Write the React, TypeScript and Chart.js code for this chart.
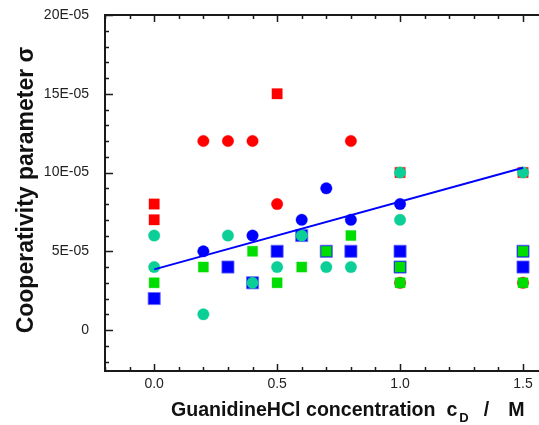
import React, { useEffect, useRef } from 'react';
import { Chart, registerables } from 'chart.js';

Chart.register(...registerables);

// ---- data (values in σ units) ----
const redSquareX = [0.0, 0.0, 0.5, 1.0, 1.5];
const redSquareY = [8e-5, 7e-5, 15e-5, 10e-5, 10e-5];

const redCircleX = [0.2, 0.3, 0.4, 0.5, 0.8, 1.0, 1.5];
const redCircleY = [12e-5, 12e-5, 12e-5, 8e-5, 12e-5, 3e-5, 3e-5];

const blueSquareX = [0.0, 0.3, 0.4, 0.5, 0.6, 0.7, 0.8, 1.0, 1.0, 1.5, 1.5];
const blueSquareY = [2e-5, 4e-5, 3e-5, 5e-5, 6e-5, 5e-5, 5e-5, 5e-5, 4e-5, 5e-5, 4e-5];

const blueCircleX = [0.2, 0.4, 0.6, 0.7, 0.8, 1.0];
const blueCircleY = [5e-5, 6e-5, 7e-5, 9e-5, 7e-5, 8e-5];

const greenSquareX = [0.0, 0.2, 0.4, 0.5, 0.6, 0.7, 0.8, 1.0, 1.0, 1.5, 1.5];
const greenSquareY = [3e-5, 4e-5, 5e-5, 3e-5, 4e-5, 5e-5, 6e-5, 4e-5, 3e-5, 5e-5, 3e-5];

const cyanCircleX = [0.0, 0.0, 0.2, 0.3, 0.4, 0.5, 0.6, 0.7, 0.8, 1.0, 1.0, 1.5];
const cyanCircleY = [6e-5, 4e-5, 1e-5, 6e-5, 3e-5, 4e-5, 6e-5, 4e-5, 4e-5, 7e-5, 10e-5, 10e-5];

const fitX = [0.0, 1.5];
const fitY = [3.85e-5, 10.3e-5];

const xTickValues = [0.0, 0.5, 1.0, 1.5];
const xTickLabels = ['0.0', '0.5', '1.0', '1.5'];
const yTickValues = [0, 5e-5, 10e-5, 15e-5, 20e-5];
const yTickLabels = ['0', '5E-05', '10E-05', '15E-05', '20E-05'];

const X_MIN = -0.2;
const X_MAX = 1.565;
const Y_MIN = -2.6e-5;
const Y_MAX = 20e-5;
const X_MINOR_STEP = 0.1;
const Y_MINOR_STEP = 1e-5;

const xLabelMain = 'GuanidineHCl concentration  c';
const xLabelSub = 'D';
const xLabelSlash = '/';
const xLabelUnit = 'M';
const yLabel = 'Cooperativity parameter σ';

const pts = (xs: number[], ys: number[]) => xs.map((x, i) => ({ x, y: ys[i] }));

const FONT = '"Liberation Sans", Arial, sans-serif';

const zeroPad = (s: any) => {
  s.paddingTop = 0;
  s.paddingBottom = 0;
  s.paddingLeft = 0;
  s.paddingRight = 0;
};

const framePlugin = {
  id: 'frame',
  beforeDatasetsDraw(chart: any) {
    const { ctx, chartArea, scales } = chart;
    const xs = scales.x;
    const ys = scales.y;
    const L = chartArea.left;
    const T = chartArea.top;
    const B = chartArea.bottom;
    const R = chart.width;
    ctx.save();
    ctx.strokeStyle = '#1a1a1a';
    ctx.lineWidth = 2;
    ctx.beginPath();
    ctx.moveTo(R, T);
    ctx.lineTo(L, T);
    ctx.lineTo(L, B);
    ctx.lineTo(R, B);
    ctx.stroke();
    ctx.lineWidth = 1.5;
    ctx.beginPath();
    for (let i = Math.ceil(X_MIN / X_MINOR_STEP); i * X_MINOR_STEP <= X_MAX + 1e-9; i++) {
      const v = i * X_MINOR_STEP;
      const px = Math.round(xs.getPixelForValue(v)) + 0.5;
      const major = i % 5 === 0;
      const len = major ? 7 : 4;
      ctx.moveTo(px, B);
      ctx.lineTo(px, B - len);
      ctx.moveTo(px, T);
      ctx.lineTo(px, T + len);
    }
    for (let i = Math.ceil(Y_MIN / Y_MINOR_STEP); i * Y_MINOR_STEP <= Y_MAX + 1e-12; i++) {
      const v = i * Y_MINOR_STEP;
      const py = Math.round(ys.getPixelForValue(v)) + 0.5;
      const major = i % 5 === 0;
      const len = major ? 8 : 4;
      ctx.moveTo(L, py);
      ctx.lineTo(L + len, py);
    }
    ctx.stroke();
    ctx.restore();
  },
  afterDraw(chart: any) {
    const { ctx, chartArea } = chart;
    ctx.save();
    ctx.fillStyle = '#111';
    ctx.textBaseline = 'alphabetic';
    ctx.textAlign = 'left';
    ctx.font = `bold 19.6px ${FONT}`;
    const x0 = 171;
    const base = 416;
    ctx.fillText(xLabelMain, x0, base);
    const w = ctx.measureText(xLabelMain).width;
    ctx.font = `bold 13px ${FONT}`;
    const dX = x0 + w + 2;
    ctx.fillText(xLabelSub, dX, base + 6);
    const wd = ctx.measureText(xLabelSub).width;
    ctx.font = `bold 19.6px ${FONT}`;
    const slashX = dX + wd + 15;
    ctx.fillText(xLabelSlash, slashX, base);
    const ws = ctx.measureText(xLabelSlash).width;
    ctx.fillText(xLabelUnit, slashX + ws + 19, base);
    ctx.translate(33, (chartArea.top + chartArea.bottom) / 2 - 3);
    ctx.rotate(-Math.PI / 2);
    ctx.textAlign = 'center';
    ctx.font = `bold 23px ${FONT}`;
    ctx.fillText(yLabel, 0, 0);
    ctx.restore();
  },
};

export default function App() {
  const ref = useRef<HTMLCanvasElement | null>(null);

  useEffect(() => {
    document.body.style.margin = '0';
    const canvas = ref.current;
    if (!canvas) return;
    const chart = new Chart(canvas, {
      type: 'scatter',
      data: {
        datasets: [
          {
            type: 'line',
            data: pts(fitX, fitY),
            borderColor: '#0000ff',
            borderWidth: 2,
            pointRadius: 0,
            fill: false,
          } as any,
          {
            data: pts(cyanCircleX, cyanCircleY),
            pointStyle: 'circle',
            pointRadius: 5.8,
            backgroundColor: '#0ccf98',
            borderColor: 'rgba(12,207,152,0.6)',
            borderWidth: 0.5,
          },
          {
            data: pts(greenSquareX, greenSquareY),
            pointStyle: 'rect',
            pointRadius: 7.2,
            backgroundColor: '#00dd00',
            borderColor: 'rgba(0,221,0,0.6)',
            borderWidth: 0.5,
          },
          {
            data: pts(blueCircleX, blueCircleY),
            pointStyle: 'circle',
            pointRadius: 5.8,
            backgroundColor: '#0000ff',
            borderColor: 'rgba(0,0,255,0.6)',
            borderWidth: 0.5,
          },
          {
            data: pts(blueSquareX, blueSquareY),
            pointStyle: 'rect',
            pointRadius: 8.6,
            backgroundColor: '#0000ff',
            borderColor: 'rgba(110,110,255,0.8)',
            borderWidth: 1,
          },
          {
            data: pts(redCircleX, redCircleY),
            pointStyle: 'circle',
            pointRadius: 5.8,
            backgroundColor: '#ff0000',
            borderColor: 'rgba(255,0,0,0.6)',
            borderWidth: 0.5,
          },
          {
            data: pts(redSquareX, redSquareY),
            pointStyle: 'rect',
            pointRadius: 7.4,
            backgroundColor: '#ff0000',
            borderColor: 'rgba(255,0,0,0.6)',
            borderWidth: 0.5,
          },
        ],
      },
      options: {
        responsive: false,
        animation: false,
        devicePixelRatio: 1,
        layout: { autoPadding: false, padding: { top: 15, right: 0, left: 0, bottom: 0 } },
        plugins: {
          legend: { display: false },
          tooltip: { enabled: false },
        },
        scales: {
          x: {
            type: 'linear',
            min: X_MIN,
            max: X_MAX,
            grid: { display: false, drawTicks: false },
            border: { display: false },
            ticks: {
              color: '#222',
              font: { family: FONT, size: 14 },
              padding: 5,
              maxRotation: 0,
              callback: (_v: any, i: number) => xTickLabels[i],
            },
            afterBuildTicks: (s: any) => {
              s.ticks = xTickValues.map((value) => ({ value }));
            },
            afterFit: (s: any) => {
              s.height = 54;
              zeroPad(s);
            },
          },
          y: {
            type: 'linear',
            min: Y_MIN,
            max: Y_MAX,
            grid: { display: false, drawTicks: false },
            border: { display: false },
            ticks: {
              color: '#222',
              font: { family: FONT, size: 14 },
              padding: 16,
              callback: (_v: any, i: number) => yTickLabels[i],
            },
            afterBuildTicks: (s: any) => {
              s.ticks = yTickValues.map((value) => ({ value }));
            },
            afterFit: (s: any) => {
              s.width = 105;
              zeroPad(s);
            },
          },
        },
      },
      plugins: [framePlugin],
    });
    return () => chart.destroy();
  }, []);

  return (
    <div style={{ width: 539, height: 425, overflow: 'hidden', background: '#fff' }}>
      <canvas ref={ref} width={539} height={425} style={{ display: 'block' }} />
    </div>
  );
}
